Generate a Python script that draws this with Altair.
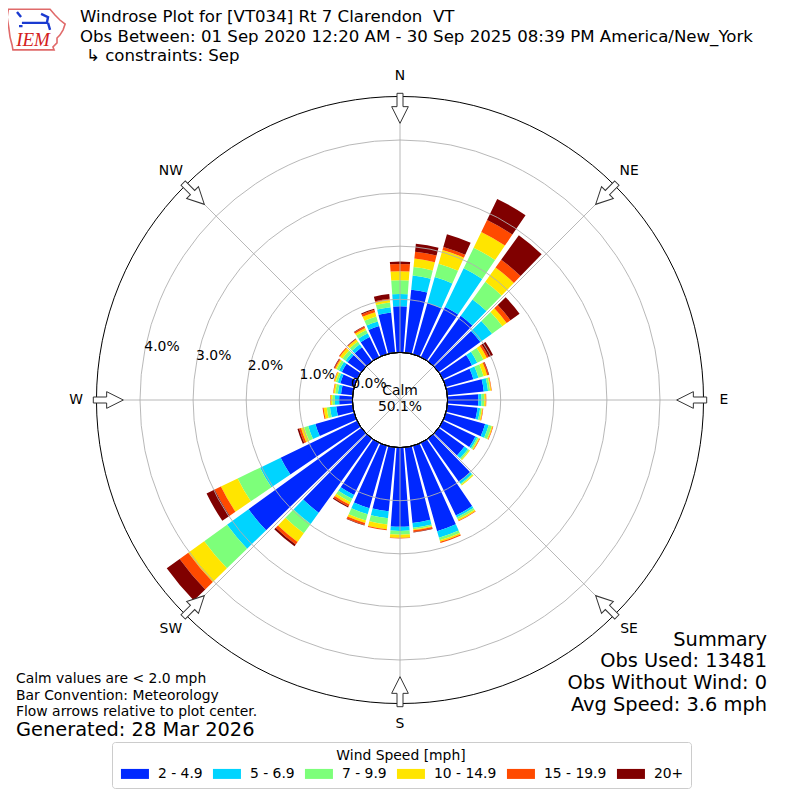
import altair as alt
import pandas as pd
import numpy as np

FONT = "DejaVu Sans"

# ---------------- data ----------------
DIRS = list(range(0, 360, 10))
BINS = ["2 - 4.9", "5 - 6.9", "7 - 9.9", "10 - 14.9", "15 - 19.9", "20+"]
COLORS = ["#0028ff", "#00d4ff", "#7dff7a", "#ffe500", "#ff4a00", "#800000"]

# percent of observations per direction (0..350 step 10) for each speed bin
S_2_5 = [0.87, 1.19, 1.00, 1.05, 1.06, 0.97, 0.61, 0.54, 0.69, 0.58, 0.57, 0.77,
         0.68, 0.60, 1.00, 1.52, 1.67, 1.43, 1.49, 1.21, 1.22, 1.09, 1.72, 2.62,
         1.60, 0.76, 0.31, 0.25, 0.22, 0.27, 0.32, 0.32, 0.33, 0.42, 0.55, 0.76]
S_5_7 = [0.23, 0.27, 0.51, 0.81, 0.38, 0.27, 0.11, 0.10, 0.08, 0.06, 0.05, 0.07,
         0.04, 0.08, 0.05, 0.04, 0.13, 0.09, 0.08, 0.13, 0.12, 0.08, 0.26, 0.50,
         0.43, 0.14, 0.12, 0.08, 0.06, 0.05, 0.06, 0.05, 0.07, 0.08, 0.09, 0.10]
S_7_10 = [0.26, 0.16, 0.26, 0.43, 0.41, 0.24, 0.13, 0.10, 0.04, 0.05, 0.03, 0.06,
          0.03, 0.03, 0.02, 0.04, 0.05, 0.03, 0.07, 0.12, 0.12, 0.07, 0.22, 0.53,
          0.47, 0.08, 0.06, 0.05, 0.05, 0.04, 0.05, 0.07, 0.06, 0.07, 0.10, 0.09]
S_10_15 = [0.17, 0.16, 0.27, 0.33, 0.33, 0.10, 0.07, 0.07, 0.02, 0.03, 0.02, 0.02,
           0.02, 0.02, 0.02, 0.03, 0.03, 0.02, 0.06, 0.09, 0.05, 0.05, 0.20, 0.37,
           0.35, 0.06, 0.06, 0.03, 0.03, 0.03, 0.03, 0.06, 0.05, 0.04, 0.08, 0.05]
S_15_20 = [0.135, 0.13, 0.06, 0.25, 0.18, 0.09, 0.04, 0.03, 0.01, 0.01, 0.01, 0.01,
           0.01, 0.00, 0.00, 0.01, 0.02, 0.03, 0.01, 0.02, 0.04, 0.04, 0.06, 0.20,
           0.13, 0.04, 0.02, 0.01, 0.01, 0.01, 0.02, 0.02, 0.01, 0.03, 0.05, 0.02]
S_20P = [0.045, 0.15, 0.25, 0.44, 0.57, 0.21, 0.09, 0.01, 0.00, 0.00, 0.00, 0.00,
         0.00, 0.00, 0.00, 0.00, 0.00, 0.01, 0.00, 0.00, 0.01, 0.02, 0.04, 0.30,
         0.17, 0.03, 0.00, 0.00, 0.00, 0.00, 0.01, 0.00, 0.01, 0.01, 0.02, 0.09]
SERIES = [S_2_5, S_5_7, S_7_10, S_10_15, S_15_20, S_20P]

RINGS = [1, 2, 3, 4]
RING_LABELS = ["0.0%", "1.0%", "2.0%", "3.0%", "4.0%"]
RING_LABEL_VALUES = [0, 1, 2, 3, 4]
COMPASS = ["N", "NE", "E", "SE", "S", "SW", "W", "NW"]
COMPASS_DEG = [0, 45, 90, 135, 180, 225, 270, 315]

TITLE1 = "Windrose Plot for [VT034] Rt 7 Clarendon\u00a0\u00a0VT"
TITLE2 = "Obs Between: 01 Sep 2020 12:20 AM - 30 Sep 2025 08:39 PM America/New_York"
TITLE3 = "\u21b3 constraints: Sep"
CALM = "50.1%"

# ---------------- geometry / styles ----------------
W = H = 784
CX, CY = W / 2, H / 2
R0 = 47.6          # pixel radius of calm circle (0 %)
PX = 53.1          # pixels per percent
RMAX = 4.82        # outer circle in percent
HALF = 4.2         # half bar width (deg)

rows = []
for i, d in enumerate(DIRS):
    cum = 0.0
    for j, b in enumerate(BINS):
        v = SERIES[j][i]
        if v > 0:
            rows.append({"dir": d, "bin": b, "t0": d - HALF, "t1": d + HALF,
                         "r0": cum, "r1": cum + v, "val": v})
        cum += v
bars_df = pd.DataFrame(rows)

theta_scale = alt.Scale(domain=[0, 360], range=[0, 2 * np.pi], zero=False, nice=False)
radius_scale = alt.Scale(type="linear", domain=[0, RMAX], range=[R0, R0 + PX * RMAX],
                         zero=False, nice=False)

legend = alt.Legend(
    title="Wind Speed [mph]", orient="none", legendX=104, legendY=734,
    direction="horizontal", columns=6,
    titleFontSize=13.9, titleFontWeight="normal", titleFont=FONT, titleColor="black",
    titleAnchor="middle", titlePadding=4,
    labelFontSize=13.9, labelFont=FONT, labelColor="black", labelOffset=25,
    symbolType="M-1,-1H4.6V1H-1Z", symbolSize=100, symbolStrokeWidth=0, symbolOpacity=1,
    columnPadding=8, padding=7, strokeColor="#cccccc", cornerRadius=3, fillColor="white",
)

bars = alt.Chart(bars_df).mark_arc(strokeWidth=0).encode(
    theta=alt.Theta("t0:Q", scale=theta_scale, stack=None),
    theta2="t1:Q",
    radius=alt.Radius("r1:Q", scale=radius_scale, stack=None),
    radius2="r0:Q",
    color=alt.Color("bin:N", scale=alt.Scale(domain=BINS, range=COLORS), legend=legend),
)

rings = alt.Chart(pd.DataFrame({"p": RINGS})).mark_arc(
    filled=False, fill="transparent", stroke="#b0b0b0", strokeWidth=0.9,
    theta=0, theta2=2 * np.pi
).encode(radius=alt.Radius("p:Q", scale=radius_scale, stack=None))

comp_df = pd.DataFrame({"name": COMPASS, "deg": COMPASS_DEG})

spokes = alt.Chart(comp_df).transform_calculate(
    sx=f"{CX}", sy=f"{CY}",
    ex=f"{CX} + {R0 + PX * RMAX}*sin(datum.deg*PI/180)",
    ey=f"{CY} - {R0 + PX * RMAX}*cos(datum.deg*PI/180)",
).mark_rule(color="#b0b0b0", strokeWidth=0.9).encode(
    x=alt.X("sx:Q", scale=None, axis=None), y=alt.Y("sy:Q", scale=None, axis=None),
    x2="ex:Q", y2="ey:Q",
)

outer = alt.Chart(pd.DataFrame({"p": [RMAX]})).mark_arc(
    filled=False, fill="transparent", stroke="black", strokeWidth=1,
    theta=0, theta2=2 * np.pi
).encode(radius=alt.Radius("p:Q", scale=radius_scale, stack=None))

calm = alt.Chart(pd.DataFrame({"p": [0]})).mark_arc(
    fill="white", stroke="black", strokeWidth=1, theta=0, theta2=2 * np.pi
).encode(radius=alt.Radius("p:Q", scale=radius_scale, stack=None))

ARROW = "M-0.2,-1L0.2,-1L0.2,-0.11L0.556,-0.11L0,1L-0.556,-0.11L-0.2,-0.11Z"
arrows = alt.Chart(comp_df).transform_calculate(
    ax=f"{CX} + 291.7*sin(datum.deg*PI/180)",
    ay=f"{CY} - 291.7*cos(datum.deg*PI/180)",
).mark_point(shape=ARROW, size=900, filled=True, fill="white", stroke="#333333",
             strokeWidth=1, opacity=1, fillOpacity=1, strokeOpacity=1).encode(
    x=alt.X("ax:Q", scale=None, axis=None), y=alt.Y("ay:Q", scale=None, axis=None),
    angle=alt.Angle("deg:Q", scale=None),
)

compass_lbl = alt.Chart(comp_df).transform_calculate(
    lx=f"{CX} + 324*sin(datum.deg*PI/180)",
    ly=f"{CY} - 324*cos(datum.deg*PI/180)",
).mark_text(font=FONT, fontSize=13.9, color="black", align="center", baseline="middle").encode(
    x=alt.X("lx:Q", scale=None, axis=None), y=alt.Y("ly:Q", scale=None, axis=None),
    text="name:N",
)

ring_lbl = alt.Chart(pd.DataFrame({"p": RING_LABEL_VALUES, "label": RING_LABELS})).transform_calculate(
    lx="361 - 51.75*datum.p", ly="376 - 9.25*datum.p",
).mark_text(font=FONT, fontSize=13.9, color="black", align="center", baseline="middle").encode(
    x=alt.X("lx:Q", scale=None, axis=None), y=alt.Y("ly:Q", scale=None, axis=None),
    text="label:N",
)

one = pd.DataFrame({"a": [0]})


def txt(s, x, y, size, align="left", font=FONT, color="black", style="normal"):
    return alt.Chart(one).mark_text(
        text=s, align=align, baseline="middle", fontSize=size, font=font,
        color=color, fontStyle=style,
    ).encode(x=alt.value(x - 8), y=alt.value(y - 8))


texts = [
    txt(TITLE1, 80, 17, 16.6),
    txt(TITLE2, 80, 36.5, 16.6),
    txt(TITLE3, 86, 56, 16.6),
    txt("Calm", 400, 391, 13.9, "center"),
    txt(CALM, 400, 407, 13.9, "center"),
    txt("Calm values are < 2.0 mph", 16, 679, 13.9),
    txt("Bar Convention: Meteorology", 16, 696, 13.9),
    txt("Flow arrows relative to plot center.", 16, 712, 13.9),
    txt("Generated: 28 Mar 2026", 16, 730, 19.4),
    txt("Summary", 767, 640, 19.4, "right"),
    txt("Obs Used: 13481", 767, 661, 19.4, "right"),
    txt("Obs Without Wind: 0", 767, 683, 19.4, "right"),
    txt("Avg Speed: 3.6 mph", 767, 705, 19.4, "right"),
    txt("IEM", 33, 40, 19, "center", font="Liberation Serif", color="#d42020", style="italic"),
]

IOWA = ("M-0.99,-0.68L0.45,-0.68L0.62,-0.48L0.79,-0.31L0.97,-0.17L0.9,0.03L0.79,0.21"
        "L0.69,0.31L0.69,0.48L0.55,0.62L0.59,0.72L-0.83,0.72L-0.86,0.55L-0.93,0.28"
        "L-0.97,-0.03L-1.03,-0.41Z")
BARB = ("M-0.69,-0.59L-0.55,-0.41M-0.52,-0.21L0.38,-0.21M0.14,-0.52L0.38,-0.41L0.34,-0.21"
        "M0.38,-0.21L0.45,0.03M-0.62,-0.1L-0.5,-0.1")
logo_outline = alt.Chart(one).mark_point(
    shape=IOWA, size=3364, filled=False, stroke="#e06a6a", strokeWidth=1.6, opacity=1
).encode(x=alt.value(29), y=alt.value(21))
logo_barb = alt.Chart(one).mark_point(
    shape=BARB, size=3364, filled=False, stroke="#1a3ad0", strokeWidth=2.4, opacity=1
).encode(x=alt.value(29), y=alt.value(21))

chart = alt.layer(
    bars, rings, spokes, outer, calm, arrows, compass_lbl, ring_lbl,
    logo_outline, logo_barb, *texts
).properties(
    width=W, height=H, padding=0, autosize=alt.AutoSizeParams(type="none"),
    background="white",
).configure_view(stroke=None)

chart.save("out.html", embed_options={"renderer": "svg", "actions": False})
